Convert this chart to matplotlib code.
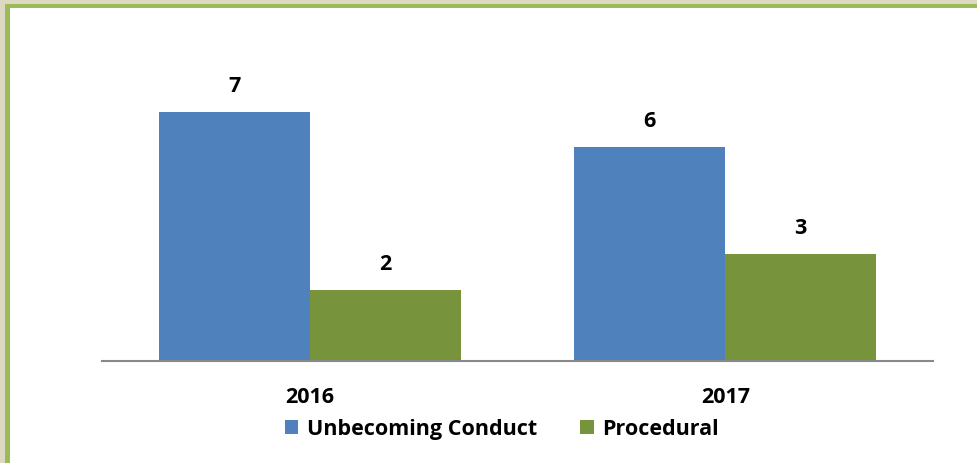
import matplotlib.pyplot as plt
from matplotlib.patches import Rectangle
import numpy as np

years = ['2016', '2017']
unbecoming = [7, 6]
procedural = [2, 3]
series_names = ['Unbecoming Conduct', 'Procedural']

blue = '#4F81BD'
green = '#77933C'

plt.rcParams['font.family'] = ['Open Sans', 'DejaVu Sans']
fs = 15.5

W, H = 977, 464
fig = plt.figure(figsize=(W / 100, H / 100), dpi=100)
fig.patch.set_facecolor('white')

# frame: beige outside, green border on top and left
fig.patches.append(Rectangle((0, 0), 1, 1, transform=fig.transFigure,
                             facecolor='#DDD8C2', edgecolor='none', zorder=-3))
fig.patches.append(Rectangle((5 / W, 0), 1, 1 - 5 / H, transform=fig.transFigure,
                             facecolor='#9BBB59', edgecolor='none', zorder=-2))
fig.patches.append(Rectangle((10 / W, 0), 1, 1 - 9 / H, transform=fig.transFigure,
                             facecolor='white', edgecolor='none', zorder=-1))

# plot area in pixels
x0, x1 = 102, 933
y_base = 362
unit = 35.6
ymax = 8
ax = fig.add_axes([x0 / W, 1 - y_base / H, (x1 - x0) / W, ymax * unit / H])
ax.set_facecolor('none')

x = np.arange(len(years))
bw = 151 / 416
b1 = ax.bar(x - bw / 2, unbecoming, bw, color=blue, label=series_names[0])
b2 = ax.bar(x + bw / 2, procedural, bw, color=green, label=series_names[1])

for bars in (b1, b2):
    for r in bars:
        ax.text(r.get_x() + r.get_width() / 2, r.get_height() + 0.45,
                f'{int(r.get_height())}', ha='center', va='bottom',
                fontsize=fs, fontweight='bold')

ax.set_xlim(-0.5, 1.5)
ax.set_ylim(0, ymax)
ax.set_yticks([])
ax.set_xticks(x)
ax.set_xticklabels(years, fontsize=fs, fontweight='bold')
ax.tick_params(axis='x', length=0, pad=18)
for s in ['top', 'right', 'left']:
    ax.spines[s].set_visible(False)
ax.spines['bottom'].set_color('#888888')
ax.spines['bottom'].set_linewidth(1.5)

fig.legend(handles=[b1, b2], loc='center', bbox_to_anchor=(502 / W, 1 - 430 / H),
           ncol=2, frameon=False, prop={'weight': 'bold', 'size': fs},
           handlelength=0.62, handleheight=0.62, handletextpad=0.4, columnspacing=2.0)

fig.savefig('out.png', dpi=100)
